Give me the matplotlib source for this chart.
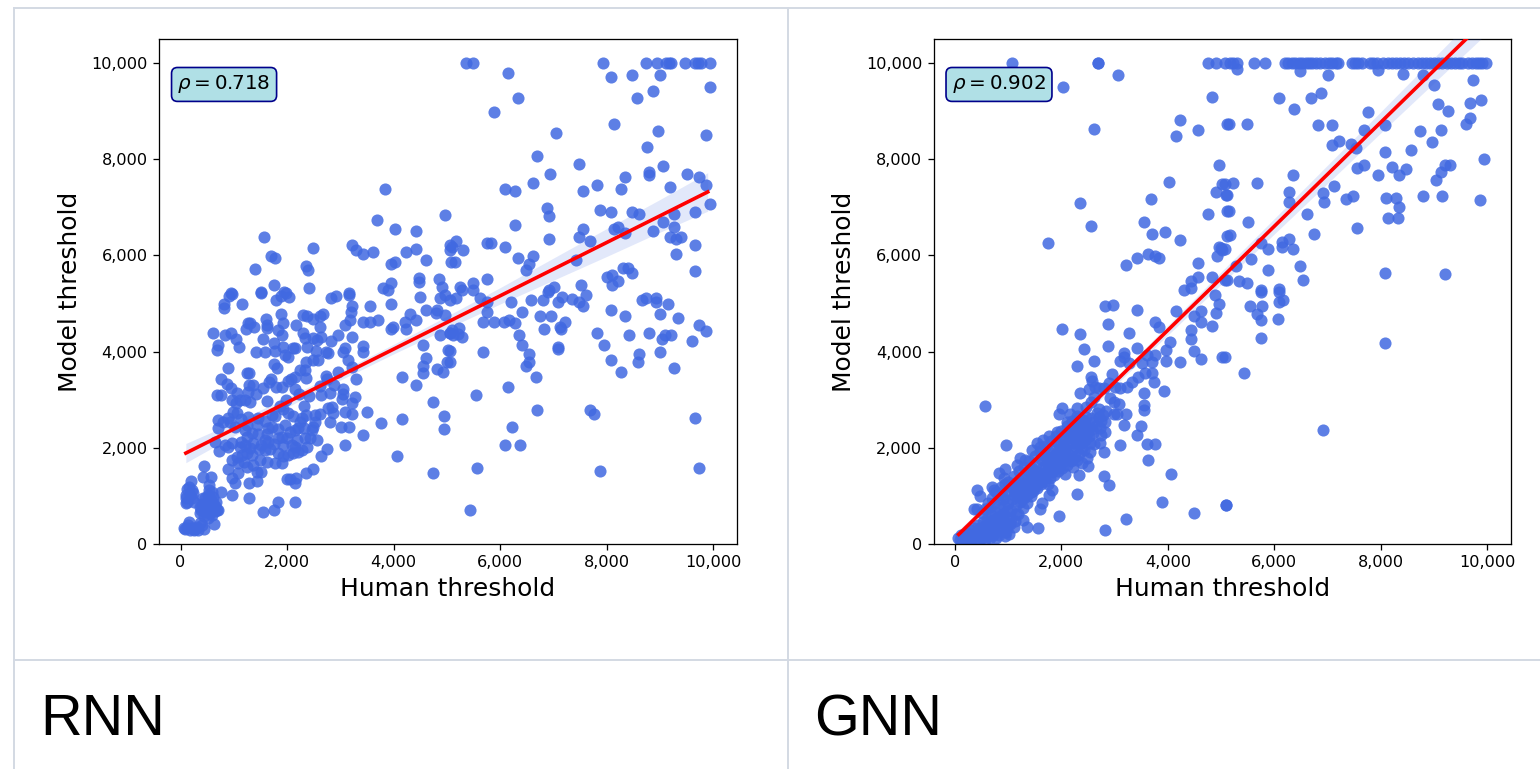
import numpy as np
import matplotlib
matplotlib.use("Agg")
import matplotlib.pyplot as plt
from matplotlib.lines import Line2D
from matplotlib.ticker import FuncFormatter

# points stuck at the 10,000 cap
rnn_capped_x = [5356, 5488, 7938, 8750, 8956, 9125, 9169, 9219, 9481, 9656, 9719, 9781, 9944]
gnn_capped_x = [1078, 2690, 4753, 4897, 5066, 5166, 5229, 5292, 5618, 5818, 6200, 6263, 6326, 6389,
                6464, 6527, 6590, 6652, 6715, 6778, 6859, 6953, 7029, 7091, 7154, 7204, 7455, 7518,
                7580, 7643, 7800, 7862, 7925, 8050, 8132, 8207, 8282, 8364, 8439, 8520, 8615, 8696,
                8771, 8847, 8928, 9010, 9085, 9160, 9242, 9323, 9398, 9474, 9536, 9649, 9724, 9787,
                9849, 9912, 9975]

rnn_upper_left = [(3831, 7387), (3687, 6743), (4031, 6542), (4425, 6507), (4962, 6833), (1575, 6382),
    (2481, 6147), (1694, 5980), (1769, 5939), (1400, 5710), (2350, 5780), (2388, 5703), (1756, 5385),
    (3219, 6223), (3294, 6105), (3425, 6022), (3619, 6064), (4225, 6064), (4419, 6140), (4619, 5904),
    (3950, 5821), (4025, 5870), (3950, 5433), (4481, 5530), (4481, 5454), (4862, 5509), (4906, 5350),
    (3806, 5315), (3900, 5280), (2419, 5315), (1950, 5246), (1512, 5232), (950, 5211), (3169, 5211),
    (5056, 6216), (5056, 6112), (5087, 5870)]

rnn_upper_right = [(6150, 9785), (6344, 9265), (5888, 8981), (8081, 9702), (8475, 9750), (9000, 9750),
    (8875, 9425), (8575, 9265), (9944, 9508), (8138, 8739), (7050, 8545), (8975, 8586), (9875, 8503),
    (8756, 8260), (6700, 8066), (7481, 7907), (6944, 7699), (6619, 7505), (6088, 7380), (6288, 7339),
    (7550, 7339), (7819, 7464), (8275, 7380), (8350, 7623), (8800, 7741), (8800, 7665), (9069, 7865),
    (9200, 7422), (9506, 7699), (9738, 7623), (9863, 7464), (9938, 7062), (9669, 6902), (9275, 6861),
    (9069, 6701), (9275, 6583), (8869, 6507), (8619, 6861), (8475, 6902), (8088, 6902), (7881, 6944),
    (6888, 6985), (6919, 6826), (6288, 6625), (7550, 6542), (7481, 6382), (7681, 6306), (8138, 6542),
    (8219, 6583), (8350, 6466), (9194, 6382), (9312, 6341), (9406, 6382), (9662, 6223), (9306, 6022),
    (9669, 5669), (6912, 6341), (6088, 6181), (5756, 6265), (5825, 6265), (6344, 5939), (6619, 5980),
    (6544, 5821), (6488, 5703), (7431, 5904), (5169, 6306), (5094, 6181), (5312, 6105), (5150, 5863),
    (5756, 5509), (5500, 5426), (5244, 5350), (6912, 5280), (7012, 5350), (7519, 5385), (8000, 5544),
    (8112, 5586), (8219, 5468), (8094, 5385), (8312, 5745), (8406, 5745), (8475, 5627)]

rnn_lower_right = [(5619, 5108), (5750, 5032), (5750, 4830), (5681, 4623), (5888, 4623), (6081, 4623),
    (6175, 4664), (6288, 4588), (6212, 5025), (6412, 4824), (6581, 5066), (6806, 5066), (6906, 5246),
    (7081, 5025), (7156, 5142), (7356, 5101), (7481, 5025), (7550, 4948), (7612, 5184), (6750, 4740),
    (6950, 4740), (7212, 4623), (7125, 4505), (7150, 4463), (6825, 4463), (6350, 4345), (6419, 4144),
    (6550, 3943), (6550, 3784), (6488, 3701), (6681, 3465), (6150, 3264), (5556, 3105), (5681, 3985),
    (5060, 4020), (5060, 3791), (7081, 4103), (7081, 4054), (6694, 2786), (6225, 2426), (6094, 2065),
    (6375, 2065), (5575, 1587), (5444, 707), (7681, 2786), (7756, 2703), (7881, 1511), (9669, 2627),
    (9738, 1587), (7819, 4387), (7944, 4144), (8075, 3826), (8281, 3583), (8075, 4865), (8344, 4747),
    (8419, 4345), (8612, 3943), (8600, 3784), (8800, 4387), (9000, 3985), (9038, 4262), (9106, 4345),
    (9212, 4345), (9269, 3666), (9600, 4228), (9738, 4546), (9869, 4429), (9338, 4706), (9150, 4990),
    (9012, 4789), (8938, 5108), (8938, 5025), (8669, 5066), (8738, 5108), (5094, 4449), (5231, 4484),
    (5294, 4311), (5219, 4359), (5125, 4345), (5060, 4380), (5287, 5281), (5500, 5281), (5169, 5108),
    (5060, 5073)]

rnn_low_corner = [(194, 1310), (119, 1137), (212, 1123), (106, 950), (106, 846), (212, 950), (244, 881),
    (444, 1622), (419, 1386), (575, 1400), (544, 1227), (544, 1123), (756, 1074), (962, 1026), (681, 707),
    (619, 846), (494, 846), (369, 776), (369, 638), (462, 673), (556, 638), (631, 416), (450, 312),
    (88, 312), (150, 464), (119, 326), (212, 326), (306, 347), (369, 430), (244, 291), (462, 776),
    (588, 742), (712, 707), (556, 950), (431, 950), (619, 985), (525, 534), (130, 880), (175, 1020),
    (160, 1180), (95, 1010), (240, 1060), (70, 340), (135, 400), (180, 300), (270, 310), (330, 300),
    (400, 390), (510, 700), (600, 610), (640, 780), (670, 870), (530, 880), (460, 950), (400, 830),
    (450, 590), (575, 800), (520, 1010), (590, 1080), (500, 760), (640, 680), (380, 700), (430, 720)]

rnn_dense = [(888, 3666), (619, 4380), (831, 4345), (956, 4380), (1044, 4262), (1094, 4103), (713, 4137),
    (681, 4034), (819, 4990), (819, 4900), (906, 5156), (975, 5198), (1156, 4990), (1512, 5226), (1881, 4782),
    (1800, 5073), (1881, 5156), (1975, 5226), (2037, 5142), (1600, 4671), (1619, 4553), (1619, 4484),
    (1306, 4588), (1275, 4588), (1381, 4505), (1231, 4463), (1919, 4588), (2162, 4553), (2306, 4761),
    (2369, 4740), (2488, 4671), (2619, 4740), (2681, 4782), (2619, 4519), (2825, 5108), (2919, 5156),
    (3169, 5184), (3212, 4948), (3200, 4830), (3181, 4657), (3088, 4553), (3556, 4955), (3950, 4990),
    (3431, 4623), (3556, 4623), (3712, 4657), (3944, 4463), (3994, 4505), (4225, 4463), (4212, 4623),
    (4306, 4782), (4419, 4657), (4619, 4865), (4825, 4865), (4806, 4796), (4494, 5142), (4869, 5108),
    (4962, 5177), (4962, 4761), (4869, 4345), (5056, 4380), (5025, 4034), (4556, 4137), (4619, 3860),
    (4556, 3701), (4556, 3548), (4819, 3631), (4931, 3583), (5006, 3791), (4150, 3465), (4413, 3306),
    (4744, 2945), (4944, 2661), (4944, 2384), (4056, 1830), (4744, 1470), (4162, 2592), (3756, 2509),
    (3494, 2751), (3419, 2266), (3088, 2066), (3006, 2426), (3169, 2426), (3212, 2703), (3081, 2751),
    (2744, 1982), (2638, 1830), (2494, 1552), (2350, 1470), (2150, 874), (2150, 1275), (2162, 1365),
    (2056, 1345), (2006, 1345), (1825, 874), (1756, 707), (1556, 673), (1288, 950), (1281, 1275),
    (1444, 1310), (1506, 1504), (1431, 1504), (1087, 1470), (1025, 1261), (962, 1365), (888, 1552),
    (725, 1941), (650, 2128), (700, 2405), (713, 2578), (806, 2544), (681, 3098), (756, 3098), (756, 3431),
    (869, 3327), (950, 3237), (1069, 3147), (962, 3000), (1044, 2925), (994, 2738), (1069, 2717),
    (1244, 3548), (1294, 3548), (1288, 3306), (1369, 3306), (1275, 3167), (1212, 3000), (1306, 2960),
    (1619, 2980), (1556, 3237), (1694, 3431), (1662, 3375), (1794, 3271), (1900, 3271), (1756, 3742),
    (1806, 3666), (1419, 3985), (1587, 3985), (1775, 4020), (1762, 4186), (1556, 4262), (1838, 4449),
    (1900, 4345), (1931, 4103), (1963, 3930), (2025, 3895), (2106, 4068), (2150, 4068), (2369, 4089),
    (2294, 4380), (2338, 4276), (2488, 4276), (2556, 4242), (2631, 4297), (2819, 4228), (2962, 4345),
    (3212, 4311), (3431, 4117), (3425, 3985), (3088, 4068), (3056, 3985), (3150, 3826), (3225, 3673),
    (3288, 3431), (2962, 3583), (2725, 3985), (2775, 3965), (2544, 4020), (2494, 3826), (2575, 3826),
    (2356, 3791), (2244, 3618), (2338, 3618), (2356, 3445), (2081, 3424), (2019, 3396), (2156, 3465),
    (2144, 3223), (2725, 3493), (2744, 3424), (2881, 3306), (3044, 3223), (3056, 3119), (3025, 3008),
    (3212, 2939), (3275, 3063), (2806, 3133), (2638, 3098), (2419, 3077), (2325, 2869), (2838, 2842),
    (2775, 2821), (2869, 2731), (2806, 2544), (2619, 2703), (2525, 2682), (2525, 2544), (2494, 2440),
    (2463, 2370), (2556, 2162), (2431, 2197), (2338, 2197), (2350, 2682), (2275, 2613), (2244, 2544),
    (2212, 2405), (2150, 2370), (2106, 2661), (2025, 2717), (1931, 2800), (1869, 2869), (1963, 2474),
    (1775, 2661), (1712, 2682), (1712, 2440), (1650, 2405), (1619, 2287), (1463, 2287), (1587, 2162),
    (1650, 2128), (1587, 1955), (1681, 1968), (1838, 2197), (1900, 2232), (1994, 2197), (1931, 2059),
    (2181, 2162), (2150, 2024), (2275, 1955), (2212, 1920), (2119, 1885), (2025, 1851), (1931, 1830),
    (1838, 1885), (1900, 1677), (1775, 1677), (1619, 1712), (1494, 1746), (1369, 1643), (1244, 1594),
    (1087, 1677), (962, 1746), (1056, 1816), (1150, 1851), (1244, 1885), (1306, 1989), (1212, 2059),
    (1119, 2024), (962, 2093), (900, 2024), (838, 2059), (1244, 2232), (1212, 2370), (1337, 2301),
    (1244, 2474), (1025, 2440), (931, 2544), (1275, 2648), (1463, 2613), (1130, 2130), (1360, 2090),
    (1520, 2060), (1750, 2080), (1830, 2400), (2060, 2330), (2320, 2420), (1440, 2480), (1130, 2590),
    (1580, 2560), (1190, 1700), (1340, 1860), (1470, 1980), (2090, 2060), (2370, 2010), (900, 2620),
    (1120, 3000), (1420, 3110), (1980, 3000), (2230, 3120), (2620, 3290)]

gnn_upper_left = [(2690, 10000), (3066, 9743), (2031, 9508), (4822, 9286), (4226, 8808), (4157, 8475),
    (4565, 8607), (2621, 8628), (5116, 8739), (4960, 7886), (5016, 7484), (4910, 7325), (5085, 7256),
    (4025, 7526), (3687, 7166), (2357, 7089), (2552, 6604), (1756, 6265), (3561, 6687), (3699, 6445),
    (3956, 6486), (4232, 6320), (4759, 6868), (5116, 6930), (5116, 6410), (4960, 6167), (4991, 6147),
    (5022, 6112), (4928, 5980), (3624, 6022), (3756, 5980), (3831, 5939), (3430, 5946), (3223, 5800),
    (4565, 5849), (4565, 5544), (4828, 5558), (4427, 5468), (4301, 5280), (4427, 5315), (5072, 5488)]

gnn_upper_right = [(5304, 9875), (6483, 9841), (7010, 9743), (7944, 9854), (8420, 9764), (8803, 9750),
    (9003, 9543), (9737, 9647), (6088, 9265), (6364, 9044), (6690, 9265), (6884, 9369), (7762, 8988),
    (9072, 9147), (9273, 9009), (9674, 9168), (9881, 9224), (9674, 8850), (9605, 8739), (9141, 8607),
    (8746, 8586), (8959, 8364), (8075, 8704), (7687, 8607), (7085, 8704), (6815, 8704), (5147, 8739),
    (5492, 8739), (7210, 8385), (7085, 8302), (7436, 8323), (7530, 8240), (8088, 8143), (8571, 8184),
    (9944, 8004), (9204, 7886), (9311, 7886), (9141, 7741), (9035, 7561), (8477, 7803), (8220, 7845),
    (8345, 7678), (7944, 7665), (7680, 7886), (7555, 7817), (6345, 7665), (5674, 7505), (5216, 7505),
    (5072, 7484), (5103, 7256), (6282, 7325), (6282, 7117), (6922, 7290), (6940, 7103), (7116, 7450),
    (7348, 7166), (7486, 7242), (8107, 7186), (8282, 7186), (8351, 7006), (8138, 6784), (8332, 6784),
    (8803, 7242), (9160, 7242), (9869, 7145), (7555, 6563), (6752, 6445), (6614, 6868), (5498, 6687),
    (5154, 6923), (5166, 6424), (5072, 6126), (5749, 6251), (5881, 6140), (6138, 6272), (6138, 6181),
    (6282, 6341), (6345, 6140), (5567, 5925), (5279, 5780), (5881, 5703), (6483, 5780), (6539, 5482),
    (8088, 5641), (9217, 5620), (5103, 5488), (5342, 5468), (5480, 5419), (5743, 5280), (6081, 5295),
    (5749, 5246), (6081, 5246), (5542, 4948), (5762, 4948), (5674, 4775), (5749, 4664), (6075, 4678),
    (6081, 5038), (6169, 5080), (5749, 4283), (5436, 3549), (5072, 3881), (8075, 4186), (6909, 2370),
    (5091, 804)]

gnn_mid = [(2828, 4948), (2972, 4969), (3423, 4865), (4157, 4844), (4489, 4747), (4627, 4844), (4878, 5184),
    (4960, 4990), (4897, 4796), (4627, 4609), (4822, 4532), (4427, 4449), (4427, 4262), (4489, 4013),
    (4627, 3846), (5022, 3895), (4226, 3791), (4038, 4207), (3969, 4034), (3969, 3812), (3768, 4623),
    (3837, 4519), (3267, 4380), (2884, 4567), (2884, 4124), (2019, 4463), (2351, 4366), (2420, 4061),
    (2621, 3812), (2295, 3708), (3417, 4068), (3179, 3965), (3110, 3812), (3267, 3770), (3185, 3895),
    (2953, 3535), (2552, 3479), (2577, 3396), (2514, 3223), (2640, 3271), (2702, 3250), (2796, 3237),
    (2890, 3341), (3016, 3271), (3110, 3237), (3235, 3271), (3329, 3375), (3436, 3465), (3580, 3548),
    (3706, 3548), (3737, 3361), (3931, 3188), (3561, 3147), (3555, 2890), (3555, 2786), (3517, 3756),
    (3612, 3930), (3768, 3930), (3706, 3791), (3505, 2454), (3423, 2266), (3612, 2072), (3768, 2072),
    (3624, 1746), (4063, 1449), (3894, 867), (4489, 652), (5085, 811), (3217, 513), (2822, 291),
    (2903, 1227), (2796, 1414), (3097, 2052), (3173, 2481), (3223, 2703), (3091, 2904), (3047, 2703),
    (2984, 2703), (2828, 2530), (2752, 2564), (2828, 2336), (2752, 2266), (2796, 1920), (2734, 2093),
    (2546, 1920), (2495, 1629), (2339, 1435), (2289, 1033), (1950, 589), (1555, 326), (1354, 347),
    (1279, 742), (1279, 499), (1103, 361), (947, 167), (1636, 846), (1605, 721), (1762, 1019), (1825, 1123),
    (1430, 1005), (966, 2052), (571, 2869), (414, 1123), (476, 1005), (696, 1192), (740, 1123), (351, 721),
    (414, 721), (821, 1470), (947, 1559), (915, 1365), (1166, 1643), (1229, 1781), (1310, 1746), (1605, 2024),
    (1762, 2253), (1918, 2336), (1950, 2703), (2013, 2835), (2295, 2821), (2169, 2703), (2470, 2842),
    (2702, 2807), (2358, 3133), (2107, 2530)]

gnn_dense = [(60, 120), (100, 90), (150, 130), (180, 70), (220, 160), (260, 100), (300, 200), (340, 140),
    (380, 80), (420, 260), (460, 190), (500, 130), (540, 310), (580, 220), (620, 170), (660, 370), (700, 280),
    (740, 220), (780, 430), (820, 340), (860, 280), (900, 510), (940, 410), (980, 350), (120, 180), (200, 230),
    (280, 290), (360, 330), (440, 400), (520, 450), (600, 520), (680, 600), (760, 660), (840, 720), (920, 790),
    (1000, 860), (1080, 930), (1160, 1000), (1240, 1060), (1320, 1150), (1400, 1230), (1480, 1290),
    (1560, 1370), (1640, 1440), (1720, 1520), (1800, 1590), (1880, 1660), (1960, 1740), (2040, 1800),
    (2120, 1880), (2200, 1950), (2280, 2020), (2360, 2090), (2440, 2160), (2520, 2240), (2600, 2310),
    (650, 760), (730, 850), (810, 930), (890, 1010), (970, 1090), (1050, 1180), (1130, 1260), (1210, 1340),
    (1290, 1420), (1370, 1510), (1450, 1590), (1530, 1670), (1610, 1760), (1690, 1840), (1770, 1920),
    (1850, 2000), (1930, 2090), (2010, 2170), (2090, 2250), (2170, 2340), (2250, 2420), (2330, 2500),
    (2410, 2580), (900, 620), (980, 560), (1060, 520), (1140, 620), (1220, 880), (1300, 960), (1380, 1030),
    (1460, 1100), (1540, 1170), (1620, 1240), (1700, 1300), (1780, 1380), (1860, 1440), (1940, 1520),
    (2020, 1590), (2100, 1650), (2180, 1730), (2260, 1800), (2340, 1870), (2420, 1950), (1000, 1280),
    (1100, 1420), (1200, 1510), (1300, 1610), (1400, 1720), (1500, 1830), (1600, 1930), (1700, 2040),
    (1800, 2150), (1900, 2240), (2000, 2350), (2100, 2460), (2200, 2560), (2300, 2660), (2400, 2300),
    (2500, 2420), (2600, 2540), (2700, 2640), (2560, 2960), (2620, 3060), (500, 650), (560, 720), (620, 860),
    (700, 960), (780, 1090), (860, 1180), (940, 1250), (1450, 1950), (1550, 2100), (1650, 2170), (1750, 1760),
    (1850, 1800), (1950, 1900), (2050, 2000), (2150, 2110), (2250, 2190), (2350, 2260), (2450, 2370)]

# extra readings from the solid part of the diagonal
gnn_fill = [(130, 60), (240, 60), (310, 90), (450, 70), (470, 330), (560, 90), (650, 120), (710, 190), (770, 120),
    (830, 180), (590, 390), (670, 470), (750, 530), (800, 570), (860, 430), (950, 250), (1010, 200), (1040, 420),
    (1120, 470), (1190, 630), (1150, 820), (1060, 700), (985, 690), (910, 930), (1130, 1080), (1210, 1190),
    (1260, 940), (1340, 1260), (1360, 860), (1420, 1090), (1440, 1400), (1500, 1180), (1510, 1510), (1590, 1290),
    (1660, 1610), (1680, 1420), (1730, 1710), (1750, 1250), (1820, 1490), (1830, 1770), (1890, 1880), (1910, 1590),
    (1990, 1660), (1960, 1980), (2030, 2060), (2070, 1450), (2130, 1760), (2150, 2200), (2210, 2290), (2220, 1610),
    (2300, 1740), (2310, 2400), (2380, 1680), (2390, 2000), (2440, 2490), (2480, 1790), (2530, 2110), (2550, 2620),
    (2610, 2080), (2650, 2450), (2660, 2730), (2730, 2420), (2780, 2680), (2840, 2760), (2920, 3040), (2980, 2950),
    (1100, 1010), (1580, 1480), (1710, 1620), (1530, 1390), (1670, 1860), (1870, 1730), (2060, 1920), (2230, 2100),
    (2290, 2220), (2400, 2130), (2490, 2300), (2580, 2390), (2470, 2640), (2340, 2620), (1380, 1360), (1250, 1240)]

rnn_line_x = [100, 1000, 2000, 3000, 4000, 5000, 6000, 7000, 8000, 9000, 9900]
rnn_line_y = [1890, 2389, 2943, 3497, 4051, 4605, 5159, 5713, 6267, 6821, 7320]
rnn_band = [200, 140, 100, 90, 100, 130, 170, 230, 290, 340, 400]

gnn_line_x = [70, 1000, 2000, 3000, 4000, 5000, 6000, 7000, 8000, 9000, 9950]
gnn_line_y = [200, 1205, 2285, 3365, 4445, 5525, 6605, 7685, 8765, 9845, 10870]
gnn_band = [90, 70, 70, 80, 100, 130, 160, 190, 220, 260, 300]

x_ticks = [0, 2000, 4000, 6000, 8000, 10000]
y_ticks = [0, 2000, 4000, 6000, 8000, 10000]

W, H = 1540, 769
BLUE = "royalblue"
CELL = "#d3d9e3"


def draw_panel(rect, capped_x, groups, line_x, line_y, band, rho):
    ax = fig.add_axes([rect[0] / W, 1 - rect[3] / H, (rect[2] - rect[0]) / W, (rect[3] - rect[1]) / H])
    pts = np.array([p for g in groups for p in g], dtype=float)
    xs = np.concatenate([pts[:, 0], capped_x])
    ys = np.concatenate([pts[:, 1], np.full(len(capped_x), 10000)])
    ax.scatter(xs, ys, s=76, color=BLUE, alpha=0.85, linewidths=0, zorder=2)
    lx, ly, b = np.array(line_x), np.array(line_y), np.array(band)
    ax.fill_between(lx, ly - b, ly + b, color=BLUE, alpha=0.15, linewidth=0, zorder=3)
    ax.plot(lx, ly, color="red", lw=2.6, zorder=4)
    ax.set_xlim(-404, 10450)
    ax.set_ylim(0, 10500)
    ax.set_xticks(x_ticks)
    ax.set_yticks(y_ticks)
    fmt = FuncFormatter(lambda v, _: f"{int(v):,}")
    ax.xaxis.set_major_formatter(fmt)
    ax.yaxis.set_major_formatter(fmt)
    ax.tick_params(labelsize=11.6, length=4.1, width=0.93, pad=4)
    for s in ax.spines.values():
        s.set_linewidth(0.93)
    ax.set_xlabel("Human threshold", fontsize=17.9, labelpad=5.2)
    ax.set_ylabel("Model threshold", fontsize=17.9, labelpad=6.8)
    ax.text(0.032, 0.91, rf"$\rho = {rho}$", transform=ax.transAxes, fontsize=14.3, va="center", zorder=5,
            bbox=dict(boxstyle="round", facecolor="powderblue", edgecolor="darkblue", lw=1.2, pad=0.3))
    return ax


fig = plt.figure(figsize=(W / 100, H / 100), dpi=100)

draw_panel((159, 39, 737, 544), rnn_capped_x,
           [rnn_upper_left, rnn_upper_right, rnn_lower_right, rnn_low_corner, rnn_dense],
           rnn_line_x, rnn_line_y, rnn_band, "0.718")
draw_panel((933.5, 39, 1511, 544), gnn_capped_x,
           [gnn_upper_left, gnn_upper_right, gnn_mid, gnn_dense, gnn_fill],
           gnn_line_x, gnn_line_y, gnn_band, "0.902")

# table cell borders around the two images
for x in (14, 788):
    fig.add_artist(Line2D([x / W, x / W], [1 - 8 / H, 0], color=CELL, lw=1.4))
for y in (8, 660):
    fig.add_artist(Line2D([14 / W, 1], [1 - y / H, 1 - y / H], color=CELL, lw=1.4))

fig.text(40 / W, 1 - 735 / H, "RNN", fontsize=41.5, family="Liberation Sans", color="black", va="baseline")
fig.text(814 / W, 1 - 735 / H, "GNN", fontsize=41.5, family="Liberation Sans", color="black", va="baseline")

fig.savefig("out.png", dpi=100)
